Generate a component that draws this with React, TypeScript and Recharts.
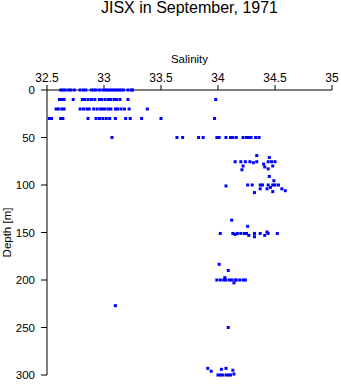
import React from "react";
import { ScatterChart, Scatter, XAxis, YAxis } from "recharts";

// salinity readings at the fixed sampling depths (m)
const levelDepths = [0, 10, 20, 30, 50];
const sal0 = [32.62, 32.64, 32.66, 32.69, 32.71, 32.74, 32.79, 32.82, 32.84, 32.89, 32.91, 32.93, 32.96, 32.99, 33.01, 33.03, 33.05, 33.07, 33.09, 33.11, 33.13, 33.15, 33.17, 33.21, 33.24, 33.25];
const sal10 = [32.61, 32.63, 32.65, 32.73, 32.81, 32.83, 32.86, 32.89, 32.92, 32.96, 32.98, 33.01, 33.04, 33.06, 33.09, 33.11, 33.14, 33.21, 33.98];
const sal20 = [32.58, 32.6, 32.63, 32.65, 32.79, 32.82, 32.85, 32.87, 32.91, 32.94, 32.97, 32.99, 33.01, 33.04, 33.06, 33.1, 33.12, 33.15, 33.18, 33.22, 33.38];
const sal30 = [32.52, 32.54, 32.62, 32.64, 32.86, 32.93, 32.96, 32.99, 33.02, 33.05, 33.1, 33.19, 33.23, 33.33, 33.5, 33.97];
const sal50 = [33.07, 33.64, 33.69, 33.83, 33.87, 33.99, 34.01, 34.07, 34.11, 34.13, 34.16, 34.22, 34.25, 34.27, 34.29, 34.33, 34.36];
const levelSal = [sal0, sal10, sal20, sal30, sal50];

// deeper casts, depth varies per point
const deepSal = [
  34.34, 34.45, 34.15, 34.2, 34.24, 34.28, 34.31, 34.34, 34.44, 34.47, 34.5, 34.4, 34.41, 34.48, 34.22, 34.44, 34.21,
  34.45, 34.49, 34.07, 34.26, 34.3, 34.37, 34.39, 34.44, 34.48, 34.5, 34.53, 34.37, 34.43, 34.46, 34.56, 34.59, 34.48, 34.32,
  34.12, 34.26, 34.02, 34.13, 34.15, 34.17, 34.2, 34.23, 34.25, 34.27, 34.32, 34.32, 34.37, 34.41, 34.43, 34.44, 34.52,
  34.01, 34.09, 33.99, 34.02, 34.05, 34.07, 34.1, 34.12, 34.15, 34.16, 34.19, 34.22, 34.24, 34.14, 34.06,
  33.1, 34.09,
  33.91, 33.94, 34.03, 34.07, 34.13, 34.0, 34.02, 34.04, 34.07, 34.09, 34.11, 34.14,
];
const deepDepth = [
  69, 71, 75.5, 75.5, 75.5, 75.5, 76.5, 75.5, 75.5, 75.5, 75.5, 78, 81, 80, 80, 83, 84,
  91, 95.5, 101, 100, 100, 100, 100, 100, 100, 100, 100, 104, 104, 102.5, 104, 106, 107, 108,
  137, 143.5, 151, 151, 152, 151, 151, 151, 151, 153, 151, 154.5, 151, 153, 149.5, 151, 151,
  183.5, 190, 200, 200, 200, 200, 200, 200, 200, 200, 200, 200, 200, 203, 197.5,
  227, 250,
  293, 296, 294, 293, 295, 300, 300, 300, 300, 300, 300, 299,
];

const salTicks = [32.5, 33, 33.5, 34, 34.5, 35];
const depthTicks = [0, 50, 100, 150, 200, 250, 300];

const points = [
  ...levelSal.flatMap((row, i) => row.map((s) => ({ sal: s, depth: levelDepths[i] }))),
  ...deepSal.map((s, i) => ({ sal: s, depth: deepDepth[i] })),
];

const font = "'Liberation Sans', Arial, sans-serif";

const Dot = (p: any) => (
  <rect x={p.cx - 1.5} y={p.cy - 1.5} width={3} height={3} fill="#0000ff" />
);

export default function App() {
  return (
    <div style={{ position: "absolute", left: 0, top: 0, width: 341, height: 384, background: "#fff" }}>
      <div
        style={{
          position: "absolute",
          left: 47,
          width: 285,
          top: 0,
          textAlign: "center",
          fontFamily: font,
          fontSize: 16,
          lineHeight: "16px",
        }}
      >
        JISX in September, 1971
      </div>
      <ScatterChart width={341} height={384} margin={{ top: 50, right: 9, bottom: 9, left: 0 }}>
        <XAxis
          type="number"
          dataKey="sal"
          orientation="top"
          domain={[32.5, 35]}
          ticks={salTicks}
          allowDataOverflow
          height={40}
          stroke="#000"
          tickSize={5}
          tickMargin={3}
          tick={{ fill: "#000", fontSize: 12, fontFamily: font }}
          label={{ value: "Salinity", position: "insideTop", offset: 5, style: { fill: "#000", fontSize: 11.5, fontFamily: font } }}
        />
        <YAxis
          type="number"
          dataKey="depth"
          reversed
          domain={[0, 300]}
          ticks={depthTicks}
          width={47}
          stroke="#000"
          tickSize={6}
          tickMargin={6}
          tick={{ fill: "#000", fontSize: 11.5, fontFamily: font }}
          label={{
            value: "Depth [m]",
            angle: -90,
            position: "insideLeft",
            offset: 7,
            style: { textAnchor: "middle", fill: "#000", fontSize: 11.5, fontFamily: font },
          }}
        />
        <Scatter data={points} shape={Dot} isAnimationActive={false} />
      </ScatterChart>
    </div>
  );
}
